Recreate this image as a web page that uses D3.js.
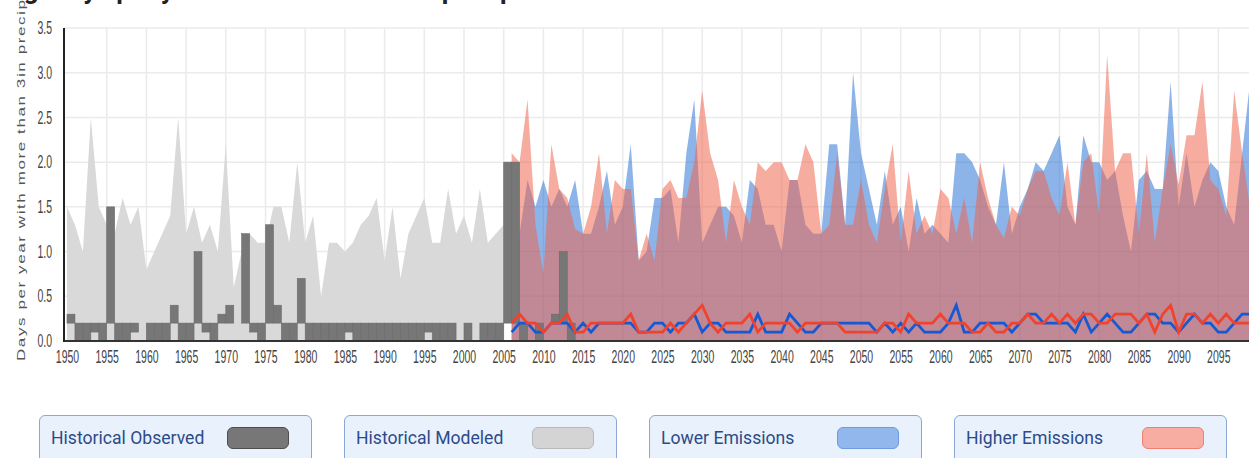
<!DOCTYPE html>
<html>
<head>
<meta charset="utf-8">
<script src="https://cdn.jsdelivr.net/npm/d3@7"></script>
<style>
  body { margin: 0; background: #fff; overflow: hidden; }
  #chart { position: relative; width: 1249px; height: 458px; overflow: hidden; }
  svg { position: absolute; left: 0; top: 0; }
  .legend-item {
    position: absolute; top: 415px; width: 273px; height: 52px; box-sizing: border-box;
    border: 1.5px solid #8ba7d5; border-radius: 6px; background: #e9f1fc;
    font-family: Roboto, sans-serif; font-size: 17.6px; color: #2c4b88;
  }
  .legend-item span.lbl { position: absolute; left: 11px; top: 12px; }
  .legend-item span.sw { position: absolute; left: 187px; top: 11px; width: 62px; height: 22px;
    box-sizing: border-box; border-radius: 6px; border: 1.5px solid; }
</style>
</head>
<body>
<div id="chart"></div>
<script>
// historical modeled (max of model range), 1950-2005
let modeledYears = d3.range(1950, 2006)
let modeled = [1.5,1.3,1.0,2.5,1.5,1.3,1.2,1.6,1.3,1.5,
  0.8,1.0,1.2,1.4,2.5,1.2,1.5,1.1,1.3,1.0,
  2.2,0.6,1.0,1.2,1.1,1.1,1.5,1.5,1.1,2.0,
  1.1,1.4,0.5,1.1,1.1,1.0,1.1,1.3,1.4,1.6,
  0.9,1.5,0.7,1.2,1.4,1.6,1.1,1.1,1.7,1.2,
  1.4,1.1,1.7,1.1,1.2,1.3]

// historical observed, 1950-2013 (bars are drawn from the 0.2 baseline)
let observedYears = d3.range(1950, 2014)
let observed = [0.3,0,0,0.1,0,1.5,0,0,0.1,0.2,
  0,0,0,0.4,0,0,1.0,0.1,0,0.3,
  0.4,0.2,1.2,0.1,0,1.3,0.4,0,0,0.7,
  0,0,0,0,0,0.1,0,0,0,0,
  0,0,0,0,0,0.1,0,0,0,0.2,
  0,0.2,0,0,0,2.0,2.0,0,0.2,0,
  0.2,0.3,1.0,0]
let baseline = 0.2

// projections 2006-2099
let projYears = d3.range(2006, 2100)
let lowerMax = [1.0,1.2,1.8,1.5,1.8,1.5,1.7,1.5,1.8,1.2,
  1.2,1.5,1.9,1.3,1.5,2.2,0.9,1.0,1.6,1.6,
  1.7,1.1,2.1,2.7,1.1,1.3,1.5,1.5,1.4,1.1,
  1.8,1.7,1.3,1.3,1.0,1.8,1.8,1.3,1.2,1.2,
  2.2,2.2,1.3,3.0,2.1,1.7,1.3,1.9,1.3,1.5,
  1.0,1.6,1.2,1.3,1.2,1.1,2.1,2.1,2.0,1.8,
  1.5,1.3,2.0,1.2,1.5,1.7,2.0,1.9,2.1,2.3,
  1.5,1.3,2.3,2.0,2.0,1.8,1.9,1.4,1.0,1.8,
  1.9,1.7,1.7,2.9,1.5,2.1,1.5,1.8,2.0,1.9,
  1.5,1.3,2.1,2.9]
let higherMax = [2.1,2.0,2.7,1.3,0.75,2.2,1.7,1.6,1.25,1.2,
  1.5,2.1,1.2,1.8,1.7,1.7,0.9,1.2,0.9,1.7,
  1.8,1.6,1.6,2.0,2.8,2.1,1.8,1.1,1.8,1.5,
  1.3,2.0,1.9,2.0,2.0,1.8,1.8,2.2,2.0,1.2,
  1.3,2.1,1.3,1.3,1.8,1.3,1.1,1.7,2.2,1.1,
  1.9,1.2,1.4,1.2,1.7,1.6,1.2,1.6,1.1,2.0,
  1.6,1.3,1.15,1.5,1.4,1.7,1.9,1.9,1.6,1.4,
  2.0,1.3,2.0,2.1,1.4,3.2,1.9,2.1,2.1,1.2,
  2.1,1.1,1.7,2.2,1.75,2.3,2.3,2.9,1.8,1.7,
  1.4,2.8,2.1,1.5]
let lowerMean = [0.1,0.2,0.2,0.1,0.1,0.2,0.2,0.2,0.1,0.2,
  0.1,0.2,0.2,0.2,0.2,0.2,0.1,0.1,0.2,0.2,
  0.1,0.2,0.2,0.3,0.1,0.2,0.2,0.1,0.1,0.1,
  0.1,0.3,0.1,0.1,0.1,0.3,0.2,0.1,0.1,0.2,
  0.2,0.2,0.2,0.2,0.2,0.2,0.1,0.2,0.1,0.2,
  0.1,0.2,0.1,0.1,0.1,0.2,0.4,0.1,0.1,0.2,
  0.2,0.2,0.2,0.1,0.2,0.3,0.3,0.2,0.2,0.2,
  0.2,0.1,0.3,0.1,0.2,0.3,0.2,0.1,0.1,0.2,
  0.3,0.3,0.2,0.2,0.1,0.2,0.3,0.2,0.2,0.1,
  0.1,0.2,0.3,0.3]
let higherMean = [0.2,0.3,0.2,0.2,0.1,0.2,0.2,0.3,0.1,0.1,
  0.2,0.2,0.2,0.2,0.2,0.3,0.1,0.1,0.1,0.1,
  0.2,0.1,0.2,0.3,0.4,0.2,0.1,0.2,0.2,0.2,
  0.3,0.1,0.2,0.2,0.2,0.2,0.1,0.2,0.2,0.2,
  0.2,0.2,0.1,0.1,0.1,0.1,0.1,0.2,0.2,0.1,
  0.3,0.2,0.2,0.2,0.3,0.2,0.2,0.2,0.1,0.1,
  0.2,0.1,0.1,0.2,0.2,0.3,0.2,0.2,0.3,0.2,
  0.3,0.2,0.3,0.3,0.2,0.2,0.3,0.3,0.3,0.2,
  0.3,0.1,0.3,0.4,0.1,0.3,0.3,0.2,0.3,0.2,
  0.3,0.2,0.2,0.2]

let xTicks = d3.range(1950, 2100, 5)
let yTicks = [0, 0.5, 1.0, 1.5, 2.0, 2.5, 3.0, 3.5]
let yLabel = "Days per year with more than 3in precipitation"
let legendNames = ["Historical Observed", "Historical Modeled", "Lower Emissions", "Higher Emissions"]
let legendFill = ["#777777", "#d4d4d4", "#92b7ec", "#f8ada3"]
let legendStroke = ["#4d4d4d", "#b9b9b9", "#6e9ae0", "#f07f70"]

function createChart(){
    let width = 1249
    let height = 458
    let plotLeft = 64, plotTop = 28, plotBottom = 341

    let svg = d3.select('#chart')
        .append('svg')
        .attr('width', width)
        .attr('height', height)

    let x = d3.scaleLinear()
        .domain([1950, 2100])
        .range([67, 67 + 150 * 7.94])
    let y = d3.scaleLinear()
        .domain([0, 3.5])
        .range([plotBottom, plotTop])

    // title, mostly cut off by the top edge as in the screenshot
    svg.append('text')
        .attr('x', -6)
        .attr('y', -1)
        .style('font-family', 'Roboto, sans-serif')
        .style('font-weight', 'bold')
        .style('font-size', '26px')
        .attr('fill', '#222')
        .text('Avg. Days per year with more than 3in precipitation')

    // grid
    svg.append('g')
        .selectAll('line')
        .data(yTicks.filter(d => d > 0))
        .enter().append('line')
        .attr('x1', plotLeft).attr('x2', width)
        .attr('y1', d => y(d)).attr('y2', d => y(d))
        .attr('stroke', '#ebebeb').attr('stroke-width', 1.5)
    svg.append('g')
        .selectAll('line')
        .data(xTicks.filter(d => d > 1950))
        .enter().append('line')
        .attr('x1', d => x(d)).attr('x2', d => x(d))
        .attr('y1', plotTop).attr('y2', plotBottom)
        .attr('stroke', '#ebebeb').attr('stroke-width', 1.5)

    // historical modeled area
    let modeledData = modeledYears.map((yr, i) => ({year: yr, v: modeled[i]}))
    let area = d3.area()
        .x(d => x(d.year))
        .y0(y(0))
        .y1(d => y(d.v))
    svg.append('path')
        .datum(modeledData)
        .attr('d', area)
        .attr('fill', '#d9d9d9')

    // projection ranges
    let lowerData = projYears.map((yr, i) => ({year: yr, v: lowerMax[i]}))
    let higherData = projYears.map((yr, i) => ({year: yr, v: higherMax[i]}))
    svg.append('path')
        .datum(lowerData)
        .attr('d', area)
        .attr('fill', 'rgb(25,105,209)')
        .attr('fill-opacity', 0.5)
    svg.append('path')
        .datum(higherData)
        .attr('d', area)
        .attr('fill', 'rgb(240,98,76)')
        .attr('fill-opacity', 0.53)

    // observed bars, drawn from the baseline
    let obsData = observedYears.map((yr, i) => ({year: yr, v: observed[i]}))
    svg.append('g')
        .selectAll('rect')
        .data(obsData.filter(d => d.v != baseline))
        .enter().append('rect')
        .attr('x', d => x(d.year))
        .attr('width', d => x(d.year + 1) - x(d.year))
        .attr('y', d => y(Math.max(d.v, baseline)))
        .attr('height', d => Math.abs(y(d.v) - y(baseline)))
        .attr('fill', '#777')
        .attr('stroke', '#6b6b6b')
        .attr('stroke-width', 0.6)

    // mean lines
    let line = d3.line()
        .x(d => x(d.year))
        .y(d => y(d.v))
    svg.append('path')
        .datum(projYears.map((yr, i) => ({year: yr, v: lowerMean[i]})))
        .attr('d', line)
        .attr('fill', 'none')
        .attr('stroke', '#1659d4')
        .attr('stroke-width', 2.8)
    svg.append('path')
        .datum(projYears.map((yr, i) => ({year: yr, v: higherMean[i]})))
        .attr('d', line)
        .attr('fill', 'none')
        .attr('stroke', '#f0432e')
        .attr('stroke-width', 2.8)

    // axes
    let xAxis = svg.append('g')
        .attr('transform', "translate(0," + plotBottom + ")")
        .call(d3.axisBottom(x).tickValues(xTicks).tickSize(0).tickFormat(d3.format('d')))
    xAxis.select('.domain').remove()
    xAxis.selectAll('text')
        .attr('y', 10)
        .attr('transform', 'scale(0.6,1)')
        .style('font-family', 'Liberation Sans, Arial, sans-serif')
        .style('font-size', '17.5px')
        .attr('fill', '#444')

    let yAxis = svg.append('g')
        .attr('transform', "translate(" + plotLeft + ",0)")
        .call(d3.axisLeft(y).tickValues(yTicks).tickSize(0).tickFormat(d3.format('.1f')))
    yAxis.select('.domain').remove()
    yAxis.selectAll('text')
        .attr('x', -20)
        .attr('transform', 'scale(0.6,1)')
        .style('font-family', 'Liberation Sans, Arial, sans-serif')
        .style('font-size', '17.5px')
        .attr('fill', '#444')

    svg.append('line')
        .attr('x1', plotLeft).attr('x2', width)
        .attr('y1', plotBottom).attr('y2', plotBottom)
        .attr('stroke', '#333').attr('stroke-width', 2)
    svg.append('line')
        .attr('x1', plotLeft).attr('x2', plotLeft)
        .attr('y1', plotTop).attr('y2', plotBottom + 1)
        .attr('stroke', '#222').attr('stroke-width', 2)

    svg.append('text')
        .attr('transform', 'translate(25,361) scale(0.6,1) rotate(-90)')
        .style('font-family', 'Liberation Sans, Arial, sans-serif')
        .style('font-size', '17px')
        .style('letter-spacing', '1.6px')
        .attr('fill', '#555')
        .text(yLabel)

    // legend
    let items = d3.select('#chart')
        .selectAll('div.legend-item')
        .data(legendNames)
        .enter().append('div')
        .attr('class', 'legend-item')
        .style('left', (d, i) => (39 + i * 305) + 'px')
    items.append('span').attr('class', 'lbl').text(d => d)
    items.append('span').attr('class', 'sw')
        .style('background', (d, i) => legendFill[i])
        .style('border-color', (d, i) => legendStroke[i])
}

createChart()
</script>
</body>
</html>
